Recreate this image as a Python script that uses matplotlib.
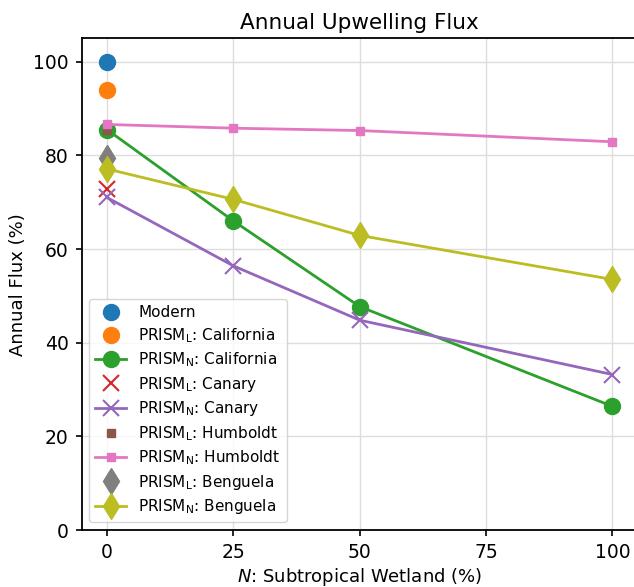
import matplotlib
matplotlib.use("Agg")
import matplotlib.pyplot as plt

wetland = [0, 25, 50, 100]
modern = 100.0
cal_L = 94.0
cal_N = [85.5, 66.0, 47.7, 26.4]
can_L = 72.8
can_N = [71.0, 56.4, 44.8, 33.2]
hum_L = 85.4
hum_N = [86.6, 85.8, 85.3, 82.9]
ben_L = 79.5
ben_N = [77.1, 70.6, 62.9, 53.5]

plt.rcParams['font.family'] = ['DejaVu Sans']
fig = plt.figure(figsize=(6.34, 5.87), dpi=100)
ax = fig.add_axes([0.1289, 0.0971, 0.877, 0.8377])

ax.plot([0], [modern], 'o', color='C0', ms=11.5, label='Modern', zorder=3)
ax.plot([0], [cal_L], 'o', color='C1', ms=11.5, label=r'PRISM$_\mathrm{L}$: California', zorder=3)
ax.plot(wetland, cal_N, 'o-', color='C2', ms=11.5, lw=2, label=r'PRISM$_\mathrm{N}$: California', zorder=3)
ax.plot([0], [can_L], 'x', color='C3', ms=12, mew=1.5, label=r'PRISM$_\mathrm{L}$: Canary', zorder=3)
ax.plot(wetland, can_N, 'x-', color='C4', ms=12, mew=1.5, lw=2, label=r'PRISM$_\mathrm{N}$: Canary', zorder=3)
ax.plot([0], [hum_L], 's', color='C5', ms=5.5, label=r'PRISM$_\mathrm{L}$: Humboldt', zorder=3)
ax.plot(wetland, hum_N, 's-', color='C6', ms=6, lw=2, label=r'PRISM$_\mathrm{N}$: Humboldt', zorder=3)
ax.plot([0], [ben_L], 'd', color='C7', ms=13, label=r'PRISM$_\mathrm{L}$: Benguela', zorder=3)
ax.plot(wetland, ben_N, 'd-', color='C8', ms=13, lw=2, label=r'PRISM$_\mathrm{N}$: Benguela', zorder=3)

ax.set_xlim(-5, 105)
ax.set_ylim(0, 105)
ax.set_xticks([0, 25, 50, 75, 100])
ax.set_yticks([0, 20, 40, 60, 80, 100])
ax.grid(True, color='#dddddd', lw=1)
ax.set_axisbelow(True)
for s in ax.spines.values():
    s.set_color('black')
    s.set_linewidth(1.3)
ax.tick_params(direction='out', length=4.5, width=1.2, pad=5, labelsize=13.5)
ax.set_title('Annual Upwelling Flux', fontsize=15.5, pad=7)
ax.set_xlabel(r'$N$: Subtropical Wetland (%)', fontsize=13, labelpad=3)
ax.set_ylabel('Annual Flux (%)', fontsize=13)
leg = ax.legend(loc='lower left', fontsize=11, frameon=True, borderaxespad=0.5,
                handlelength=2, labelspacing=0.37)
leg.get_frame().set_edgecolor('#cccccc')

fig.savefig('out.png', dpi=100)
